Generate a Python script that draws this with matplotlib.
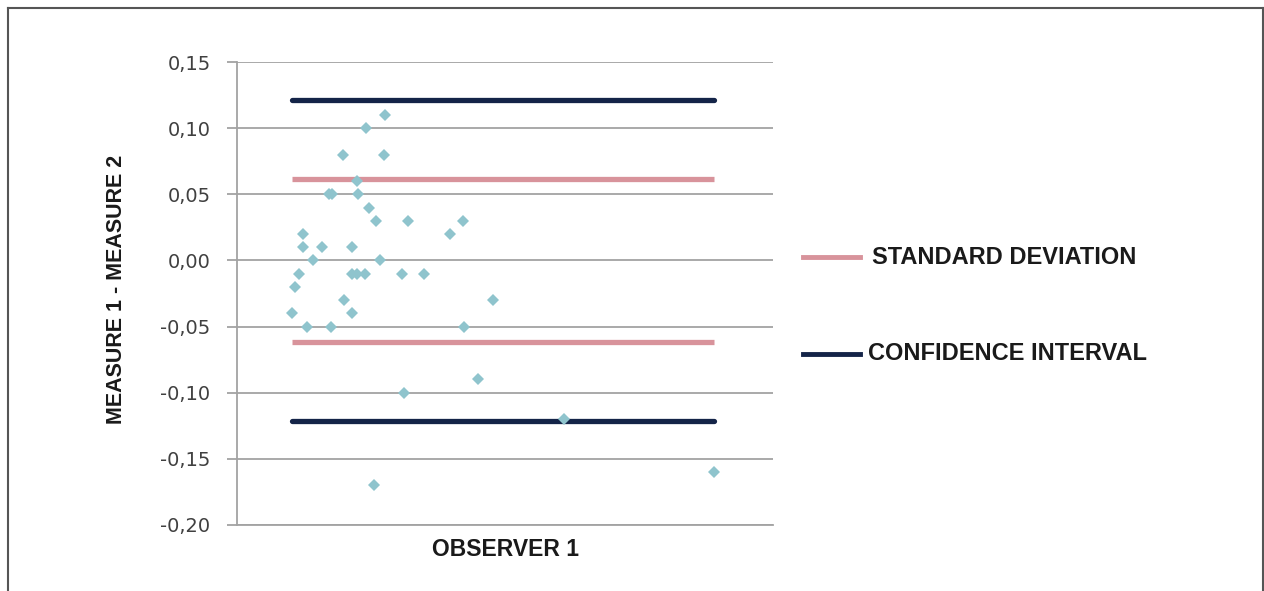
import matplotlib
matplotlib.use('Agg')
from matplotlib import pyplot as plt
from matplotlib.lines import Line2D
from matplotlib.ticker import FuncFormatter

# observer 1 (arbitrary units, the chart shows no x ticks)
obs_x = [10.3, 10.8, 11.6, 12.3, 12.3, 13.1, 14.2, 15.9, 17.2, 17.7,
         17.5, 19.8, 20.0, 21.5, 21.5, 21.5, 22.4, 22.6, 22.4, 23.9,
         24.1, 24.6, 25.9, 25.6, 26.7, 27.6, 27.4, 30.8, 31.2, 31.9,
         34.9, 39.7, 42.2, 42.4, 45.0, 47.8, 61.0, 89.0]
# measure 1 - measure 2
diff = [-0.04, -0.02, -0.01, 0.02, 0.01, -0.05, 0.00, 0.01, 0.05, 0.05,
        -0.05, 0.08, -0.03, -0.04, 0.01, -0.01, 0.06, 0.05, -0.01, -0.01,
        0.10, 0.04, 0.03, -0.17, 0.00, 0.11, 0.08, -0.01, -0.10, 0.03,
        -0.01, 0.02, 0.03, -0.05, -0.09, -0.03, -0.12, -0.16]

line_x = [10.2, 89.0]
sd_limit = 0.0615
ci_limit = 0.1215
yticks = [0.15, 0.10, 0.05, 0.00, -0.05, -0.10, -0.15, -0.20]

pink = '#d8939b'
navy = '#142448'
teal = '#8fc4cd'

fig = plt.figure(figsize=(12.64, 5.91), dpi=100)
ax = fig.add_axes([237/1264, 1-525/591, 536/1264, 463/591])

ax.set_xlim(0, 100)
ax.set_ylim(-0.20, 0.15)
ax.set_yticks(yticks)
ax.yaxis.set_major_formatter(FuncFormatter(lambda v, p: ('%.2f' % v).replace('.', ',')))
ax.grid(axis='y', color='#a3a3a3', lw=1.3)
ax.set_axisbelow(True)

for s in ['top', 'right']:
    ax.spines[s].set_visible(False)
ax.spines['left'].set_color('#a3a3a3')
ax.spines['left'].set_linewidth(1.3)
ax.spines['bottom'].set_color('#a3a3a3')
ax.spines['bottom'].set_linewidth(1.3)
ax.tick_params(axis='x', length=0, labelbottom=False)
ax.tick_params(axis='y', length=7, width=1.3, color='#a3a3a3',
               labelsize=14, labelcolor='#404040', pad=12)
for t in ax.get_yticklabels():
    t.set_family('DejaVu Sans')

# limits
for v in [ci_limit, -ci_limit]:
    ax.plot(line_x, [v, v], color=navy, lw=3.8, solid_capstyle='round', zorder=2)
for v in [sd_limit, -sd_limit]:
    ax.plot(line_x, [v, v], color=pink, lw=3.8, solid_capstyle='butt', zorder=2)

ax.plot(obs_x, diff, 'D', color=teal, markersize=6.5, markeredgewidth=0, zorder=3)

ax.set_xlabel('OBSERVER 1', fontsize=16.5, fontweight='bold', family='Liberation Sans',
              color='#1a1a1a', labelpad=9)
fig.text(117/1264, 1-289/591, 'MEASURE 1 - MEASURE 2', rotation=90, ha='center',
         va='center', fontsize=15.5, fontweight='bold', family='Liberation Sans',
         color='#1a1a1a')

# legend drawn by hand
fig.add_artist(Line2D([803/1264, 860/1264], [1-257/591, 1-257/591], color=pink, lw=3.5))
fig.add_artist(Line2D([803/1264, 860/1264], [1-354/591, 1-354/591], color=navy, lw=3.5))
fig.text(872/1264, 1-257/591, 'STANDARD DEVIATION', va='center', fontsize=17,
         fontweight='bold', family='Liberation Sans', color='#1a1a1a')
fig.text(868/1264, 1-354/591, 'CONFIDENCE INTERVAL', va='center', fontsize=17,
         fontweight='bold', family='Liberation Sans', color='#1a1a1a')

# frame around the figure
fc = '#555555'
fig.add_artist(Line2D([8/1264, 8/1264], [0, 1-8/591], color=fc, lw=1.5))
fig.add_artist(Line2D([8/1264, 1263/1264], [1-8/591, 1-8/591], color=fc, lw=1.5))
fig.add_artist(Line2D([1263/1264, 1263/1264], [0, 1-8/591], color=fc, lw=1.5))

fig.savefig('out.png', dpi=100)
